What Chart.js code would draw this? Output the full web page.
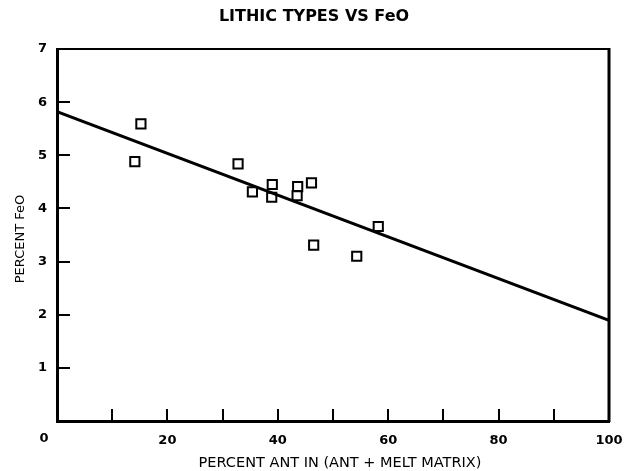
<!DOCTYPE html>
<html>
<head>
<meta charset="utf-8">
<title>Lithic types vs FeO</title>
<script src="https://cdn.jsdelivr.net/npm/chart.js@4.4.1/dist/chart.umd.min.js"></script>
<style>
  html, body { margin: 0; padding: 0; background: #fff; }
  #wrap { width: 629px; height: 471px; }
</style>
</head>
<body>
<div id="wrap"><canvas id="chart_feo"></canvas></div>
<script>
const canvasChart = document.getElementById('chart_feo');

/* DATA */
const ANT_PCT = [15.2, 14.1, 32.8, 35.4, 39.0, 38.9, 43.6, 43.5, 46.1, 46.5, 58.2, 54.3];
const FEO_PCT = [5.59, 4.88, 4.84, 4.31, 4.45, 4.21, 4.41, 4.24, 4.48, 3.31, 3.66, 3.10];

// least squares line, end points at 0 and 100
const FIT_X = [0, 100];
const FIT_Y = [5.82, 1.895];

const X_MINOR = [10, 20, 30, 40, 50, 60, 70, 80, 90];
const Y_MINOR = [1, 2, 3, 4, 5, 6];

const TITLE = 'LITHIC TYPES VS FeO';
const X_TITLE = 'PERCENT ANT IN (ANT + MELT MATRIX)';
const Y_TITLE = 'PERCENT FeO';

const FONT = "'DejaVu Sans', Verdana, sans-serif";
Chart.defaults.font.family = FONT;
Chart.defaults.color = '#000';

/* frame, inward ticks, shared origin label, titles */
const framePlugin = {
    id: 'framePlugin',
    afterDraw(chart) {
        const ctx = chart.ctx;
        const a = chart.chartArea;
        const x = chart.scales.x;
        const y = chart.scales.y;
        ctx.save();
        ctx.strokeStyle = '#000';

        ctx.lineWidth = 2;
        ctx.beginPath();
        ctx.moveTo(a.left, a.top);
        ctx.lineTo(a.right, a.top);
        ctx.stroke();

        ctx.lineWidth = 3;
        ctx.beginPath();
        ctx.moveTo(a.right, a.top - 1);
        ctx.lineTo(a.right, a.bottom + 1);
        ctx.stroke();

        ctx.lineWidth = 2;
        ctx.beginPath();
        X_MINOR.forEach(function(v) {
            const px = Math.round(x.getPixelForValue(v));
            ctx.moveTo(px, a.bottom);
            ctx.lineTo(px, a.bottom - 12);
        });
        Y_MINOR.forEach(function(v) {
            const py = Math.round(y.getPixelForValue(v));
            ctx.moveTo(a.left, py);
            ctx.lineTo(a.left + 13, py);
        });
        ctx.stroke();

        ctx.fillStyle = '#000';
        ctx.textAlign = 'center';
        ctx.textBaseline = 'middle';
        ctx.font = 'bold 16px ' + FONT;
        ctx.fillText(TITLE, 314, 17);

        ctx.font = 'bold 13px ' + FONT;
        ctx.fillText('0', a.left - 13, a.bottom + 18);

        ctx.font = '14.5px ' + FONT;
        ctx.fillText(X_TITLE, (a.left + a.right) / 2 + 7, a.bottom + 42);

        ctx.font = '13px ' + FONT;
        ctx.translate(21, (a.top + a.bottom) / 2 + 4);
        ctx.rotate(-Math.PI / 2);
        ctx.fillText(Y_TITLE, 0, 0);
        ctx.restore();
    }
};

var chartFeo = new Chart(canvasChart, {
    type: 'scatter',
    data: {
        datasets: [
            {
                label: 'Lithic types',
                data: ANT_PCT.map((v, i) => ({ x: v, y: FEO_PCT[i] })),
                pointStyle: 'rect',
                pointRadius: 6.5,
                pointBorderWidth: 2,
                borderColor: '#000',
                backgroundColor: 'rgba(0,0,0,0)'
            },
            {
                label: 'Fit',
                data: FIT_X.map((v, i) => ({ x: v, y: FIT_Y[i] })),
                showLine: true,
                pointRadius: 0,
                borderWidth: 3,
                borderColor: '#000'
            }
        ]
    },
    options: {
        responsive: true,
        maintainAspectRatio: false,
        animation: false,
        layout: { padding: { left: 0, right: 20, top: 49, bottom: 0 } },
        plugins: {
            legend: { display: false },
            tooltip: { enabled: false },
            title: { display: false }
        },
        scales: {
            x: {
                type: 'linear',
                min: 0,
                max: 100,
                afterFit: (s) => {
                    s.height = 50;
                    s.paddingLeft = 0;
                    s.paddingRight = 0;
                },
                grid: { display: false, drawTicks: false },
                border: { display: true, color: '#000', width: 3 },
                ticks: {
                    stepSize: 20,
                    padding: 12,
                    maxRotation: 0,
                    font: { size: 13, weight: 'bold' },
                    callback: (v) => (v === 0 ? '' : v)
                }
            },
            y: {
                type: 'linear',
                min: 0,
                max: 7,
                afterFit: (s) => {
                    s.width = 57;
                    s.paddingTop = 0;
                    s.paddingBottom = 0;
                },
                grid: { display: false, drawTicks: false },
                border: { display: true, color: '#000', width: 3 },
                ticks: {
                    stepSize: 1,
                    padding: 10,
                    font: { size: 13, weight: 'bold' },
                    callback: (v) => (v === 0 ? '' : v)
                }
            }
        }
    },
    plugins: [framePlugin]
});
</script>
</body>
</html>
